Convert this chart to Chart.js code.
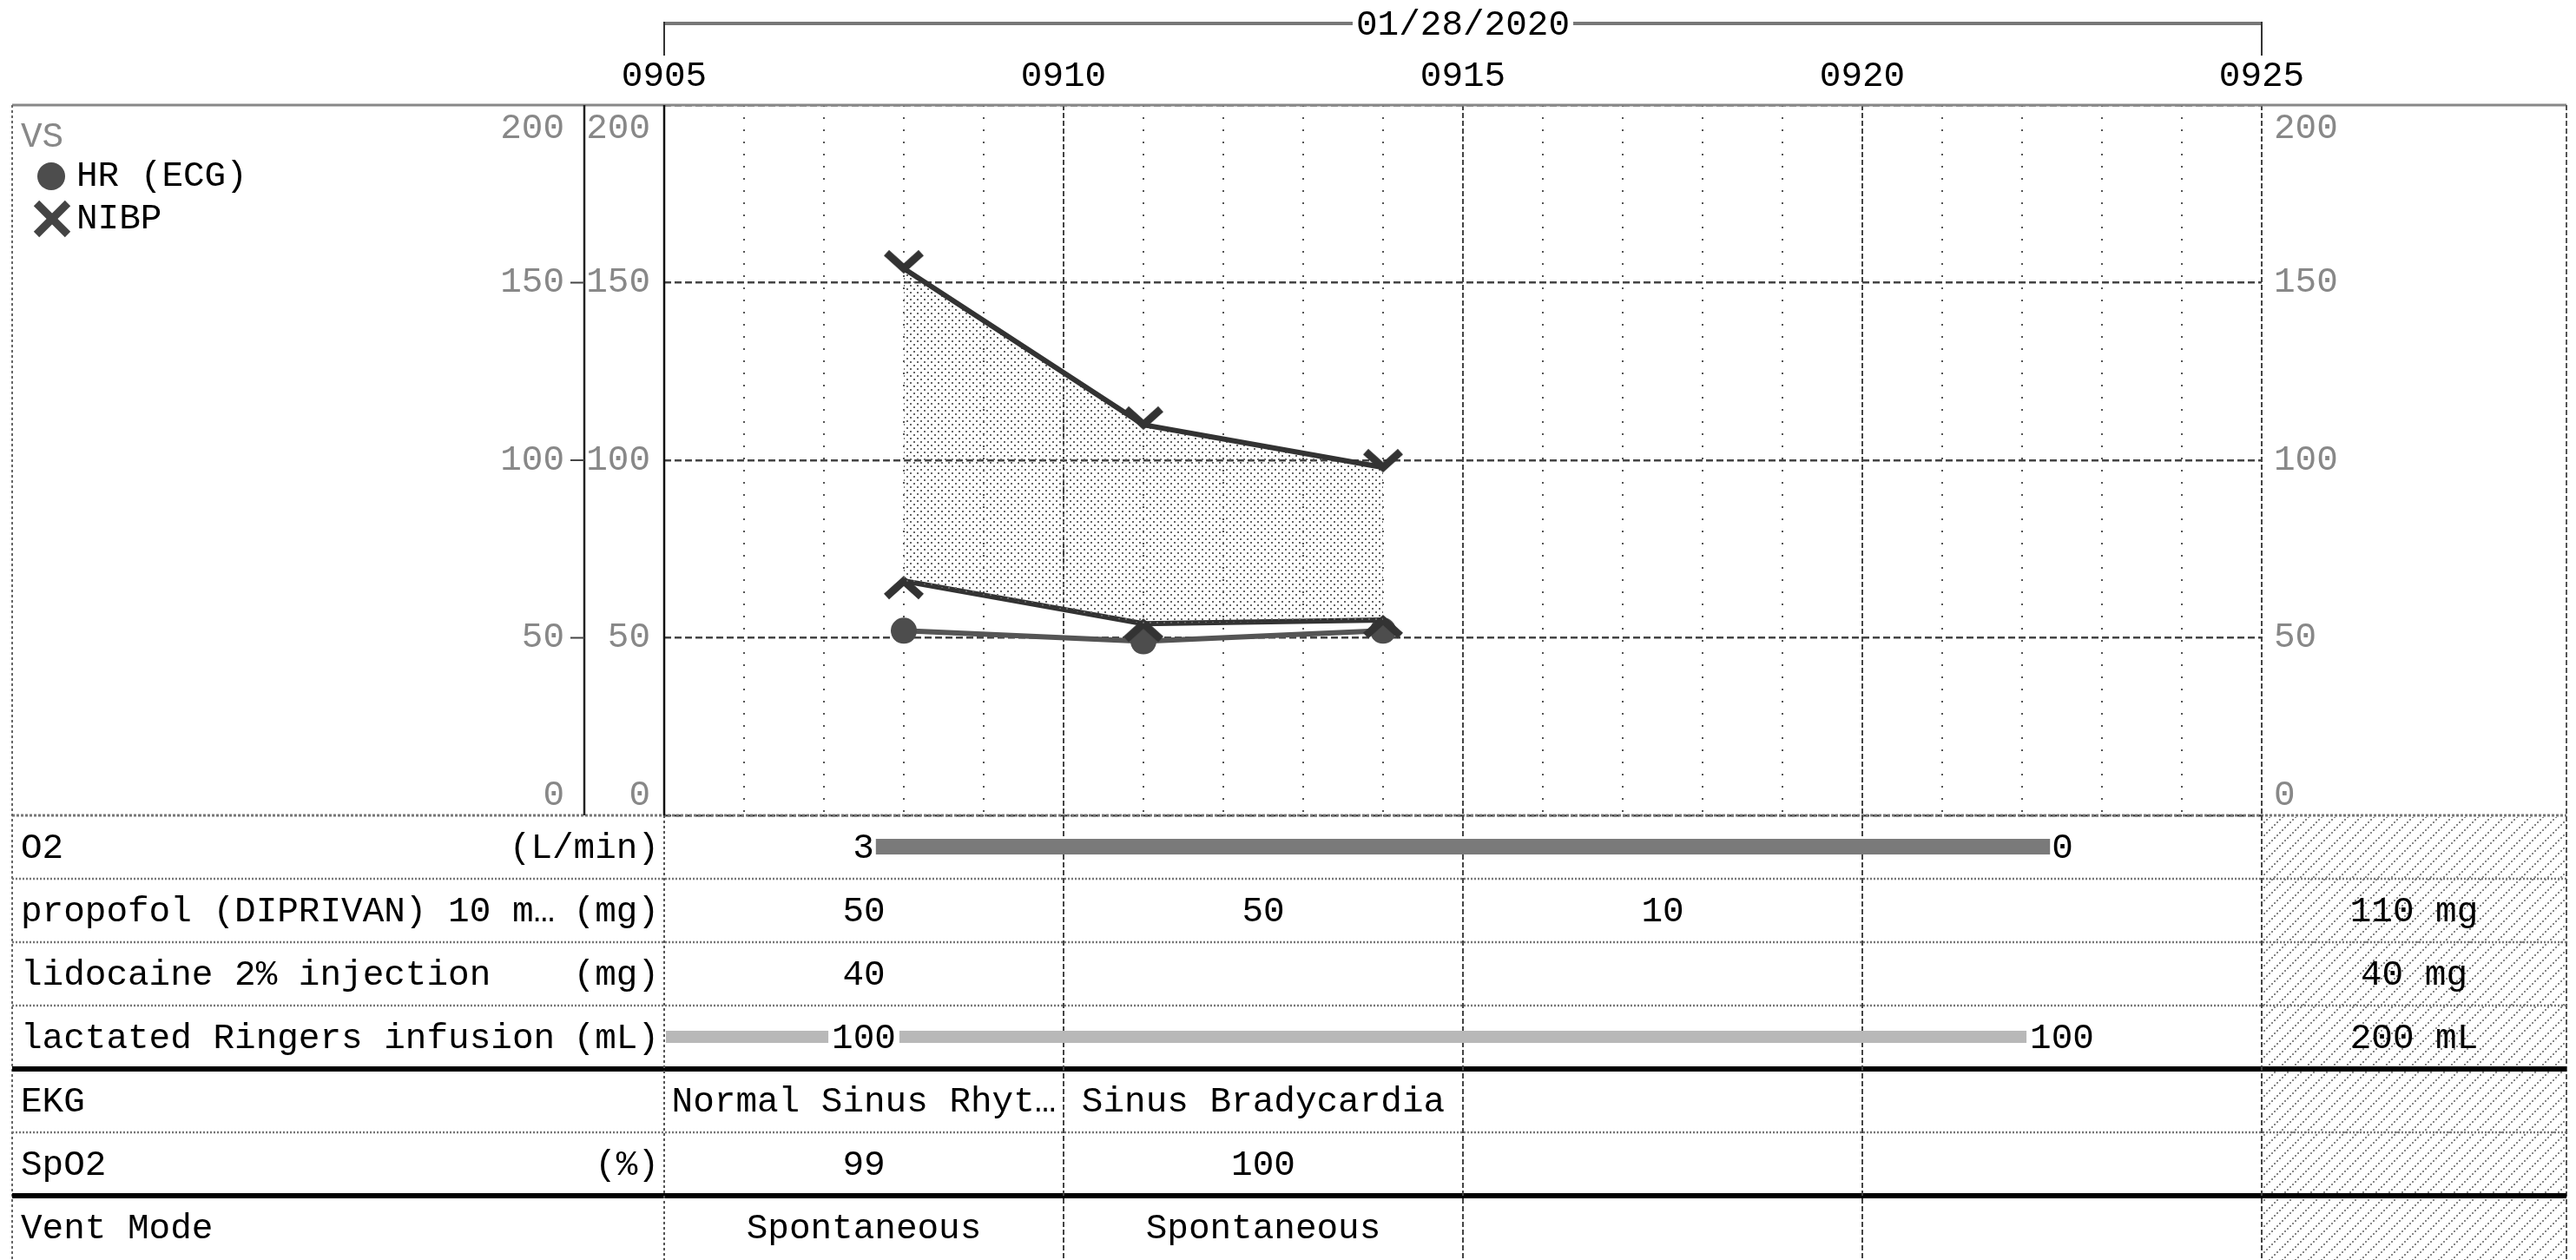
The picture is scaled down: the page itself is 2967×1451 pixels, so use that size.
<!DOCTYPE html>
<html>
<head>
<meta charset="utf-8">
<title>Anesthesia record - VS</title>
<script src="https://cdn.jsdelivr.net/npm/chart.js@4.4.1/dist/chart.umd.min.js"></script>
<style>
    html, body { margin: 0; padding: 0; background: #fff; }
    canvas { display: block; }
</style>
</head>
<body>
<canvas id="record" width="2967" height="1451"></canvas>
<script>
// ---- data ----
const recordDate = "01/28/2020";
const timeTicks = ["0905", "0910", "0915", "0920", "0925"];   // every 5 minutes
const yTicks = [0, 50, 100, 150, 200];

const vitalTimes = ["0908", "0911", "0914"];
const hrValues = [52, 49, 52];
const systolicValues = [154, 110, 98];
const diastolicValues = [66, 54, 55];

// O2 flow: rate changes (minutes after 0905)
const o2ChangeMinutes = [2.65, 17.35];
const o2Rates = [3, 0];

// lactated Ringers running line (minutes after 0905)
const lrRunMinutes = [0, 17.1];

// one entry per 5-minute column
const propofolDoses = [50, 50, 10, null];
const lidocaineDoses = [40, null, null, null];
const lrVolumes = [100, null, null, 100];
const ekgRhythms = ["Normal Sinus Rhythm", "Sinus Bradycardia", null, null];
const spo2Values = [99, 100, null, null];
const ventModes = ["Spontaneous", "Spontaneous", null, null];

const rowLabels = ["O2", "propofol (DIPRIVAN) 10 m\u2026", "lidocaine 2% injection",
    "lactated Ringers infusion", "EKG", "SpO2", "Vent Mode"];
const rowUnits = ["(L/min)", "(mg)", "(mg)", "(mL)", "", "(%)", ""];

// ---- helpers ----
const FONT = '41px "Liberation Mono", "DejaVu Sans Mono", monospace';
const startMinutes = toMinutes(timeTicks[0]);

function toMinutes(hhmm) {
    return Number(hhmm.slice(0, 2)) * 60 + Number(hhmm.slice(2, 4));
}

function points(values) {
    return values.map((v, i) => ({ x: toMinutes(vitalTimes[i]) - startMinutes, y: v }));
}

const canvas = document.getElementById("record");
const mainCtx = canvas.getContext("2d");

function makePattern(size, draw) {
    const c = document.createElement("canvas");
    c.width = size;
    c.height = size;
    draw(c.getContext("2d"));
    return mainCtx.createPattern(c, "repeat");
}

const stipple = makePattern(8, g => {
    g.fillStyle = "#666";
    g.fillRect(0, 0, 2, 2);
    g.fillRect(4, 4, 2, 2);
});

const hatch = makePattern(15, g => {
    g.fillStyle = "#888";
    for (let k = 0; k < 5; k++) {
        g.fillRect(k * 3, 13 - k * 3, 2, 2);
    }
});

function makeChevron(dir) {
    const c = document.createElement("canvas");
    c.width = 60;
    c.height = 60;
    const g = c.getContext("2d");
    g.strokeStyle = "#333";
    g.lineWidth = 9;
    g.beginPath();
    g.moveTo(10, 30 - 18 * dir);
    g.lineTo(30, 30);
    g.lineTo(50, 30 - 18 * dir);
    g.stroke();
    return c;
}

const systolicMark = makeChevron(1);
const diastolicMark = makeChevron(-1);

function line(ctx, x1, y1, x2, y2, color, width, dash) {
    ctx.save();
    ctx.strokeStyle = color;
    ctx.lineWidth = width;
    ctx.setLineDash(dash || []);
    ctx.beginPath();
    ctx.moveTo(x1, y1);
    ctx.lineTo(x2, y2);
    ctx.stroke();
    ctx.restore();
}

function fitText(ctx, text, maxWidth) {
    if (ctx.measureText(text).width <= maxWidth) {
        return text;
    }
    let t = text;
    while (t.length && ctx.measureText(t + "\u2026").width > maxWidth) {
        t = t.slice(0, -1);
    }
    return t + "\u2026";
}

function sum(values) {
    return values.reduce((a, v) => a + (v ?? 0), 0);
}

// ---- sheet plugin: header, axis columns, legend and the table below ----
const sheet = {
    id: "sheet",
    beforeDraw(chart) {
        const ctx = chart.ctx;
        ctx.save();
        ctx.fillStyle = "#fff";
        ctx.fillRect(0, 0, chart.width, chart.height);
        ctx.restore();
    },
    afterDraw(chart) {
        const ctx = chart.ctx;
        const x = chart.scales.x;
        const y = chart.scales.y;
        const area = chart.chartArea;
        const panelLeft = 14;
        const panelRight = 2956;
        const outerAxisX = 673;
        const rowHeight = 73;
        const colCount = timeTicks.length - 1;

        ctx.save();
        ctx.font = FONT;

        // date bracket
        const x0 = x.getPixelForValue(0);
        const x1 = x.getPixelForValue(20);
        const xm = (x0 + x1) / 2;
        const dateW = ctx.measureText(recordDate).width;
        line(ctx, x0, 27, xm - dateW / 2 - 4, 27, "#777", 4);
        line(ctx, xm + dateW / 2 + 4, 27, x1, 27, "#777", 4);
        line(ctx, x0, 25, x0, 64, "#333", 2);
        line(ctx, x1, 25, x1, 64, "#333", 2);
        ctx.fillStyle = "#000";
        ctx.textAlign = "center";
        ctx.textBaseline = "middle";
        ctx.fillText(recordDate, xm, 29);

        // time labels
        timeTicks.forEach((t, i) => {
            ctx.fillText(t, x.getPixelForValue(i * 5), 88);
        });

        // panel frame
        line(ctx, panelLeft, area.top, panelRight, area.top, "#888", 3);
        line(ctx, panelLeft, area.bottom, panelRight, area.bottom, "#777", 3, [3, 2]);
        line(ctx, panelLeft, area.top, panelLeft, chart.height, "#666", 2, [3, 3]);
        line(ctx, panelRight, area.top, panelRight, chart.height, "#555", 2, [6, 3]);
        line(ctx, outerAxisX, area.top, outerAxisX, area.bottom, "#222", 2.5);
        line(ctx, area.left, area.top, area.left, area.bottom, "#111", 2.5);

        // y axis label columns (outer left, inner left, right)
        ctx.fillStyle = "#888";
        yTicks.forEach(v => {
            let py = y.getPixelForValue(v);
            if (v === y.max) py += 27;
            if (v === y.min) py -= 23;
            ctx.textAlign = "right";
            ctx.fillText(String(v), 650, py);
            ctx.fillText(String(v), 749, py);
            ctx.textAlign = "left";
            ctx.fillText(String(v), area.right + 14, py);
            if (v !== y.max && v !== y.min) {
                line(ctx, 657, y.getPixelForValue(v), outerAxisX, y.getPixelForValue(v), "#444", 2);
            }
        });

        // legend
        ctx.textAlign = "left";
        ctx.fillStyle = "#888";
        ctx.fillText("VS", 24, 158);
        ctx.fillStyle = "#4d4d4d";
        ctx.beginPath();
        ctx.arc(59, 203, 16, 0, Math.PI * 2);
        ctx.fill();
        line(ctx, 42, 234, 78, 270, "#444", 9);
        line(ctx, 78, 234, 42, 270, "#444", 9);
        ctx.fillStyle = "#000";
        ctx.fillText(chart.data.datasets[2].label, 88, 203);
        ctx.fillText(chart.data.datasets[0].label, 88, 252);

        // table
        const rowTop = i => area.bottom + i * rowHeight;
        const rowMid = i => rowTop(i) + rowHeight / 2 + 2;
        const colMid = c => x.getPixelForValue(c * 5 + 2.5);

        ctx.fillStyle = hatch;
        ctx.fillRect(area.right + 2, area.bottom + 2, panelRight - area.right - 4, chart.height - area.bottom);

        for (let i = 1; i < rowLabels.length; i++) {
            const thick = i === 4 || i === 6;
            if (thick) {
                line(ctx, panelLeft, rowTop(i), panelRight, rowTop(i), "#000", 6);
            } else {
                line(ctx, panelLeft, rowTop(i), panelRight, rowTop(i), "#777", 2.5, [2, 2]);
            }
        }
        line(ctx, area.left, area.bottom, area.left, chart.height, "#555", 2, [3, 3]);
        for (let c = 1; c <= colCount; c++) {
            const px = x.getPixelForValue(c * 5);
            line(ctx, px, area.bottom, px, chart.height, "#444", 2, [6, 3]);
        }

        // O2 running bar
        const o2a = x.getPixelForValue(o2ChangeMinutes[0]);
        const o2b = x.getPixelForValue(o2ChangeMinutes[1]);
        ctx.fillStyle = "#7a7a7a";
        ctx.fillRect(o2a, rowTop(0) + 27, o2b - o2a, 18);
        ctx.fillStyle = "#000";
        ctx.textAlign = "right";
        ctx.fillText(String(o2Rates[0]), o2a - 2, rowMid(0));
        ctx.textAlign = "left";
        ctx.fillText(String(o2Rates[1]), o2b + 2, rowMid(0));

        // lactated Ringers running bar
        const lra = x.getPixelForValue(lrRunMinutes[0]);
        const lrb = x.getPixelForValue(lrRunMinutes[1]);
        ctx.fillStyle = "#b8b8b8";
        ctx.fillRect(lra + 2, rowTop(3) + 29, lrb - lra - 2, 14);

        // row labels and units
        rowLabels.forEach((label, i) => {
            ctx.fillStyle = "#000";
            ctx.textAlign = "left";
            ctx.fillText(label, 24, rowMid(i));
            if (rowUnits[i]) {
                ctx.textAlign = "right";
                ctx.fillText(rowUnits[i], 759, rowMid(i));
            }
        });

        // column cells
        const colW = x.getPixelForValue(5) - x.getPixelForValue(0);
        const cellRows = [null, propofolDoses, lidocaineDoses, lrVolumes, ekgRhythms, spo2Values, ventModes];
        ctx.textAlign = "center";
        cellRows.forEach((values, i) => {
            if (!values) return;
            values.forEach((v, c) => {
                if (v === null) return;
                const text = fitText(ctx, String(v), colW - 4);
                if (i === 3) {
                    const w = ctx.measureText(text).width;
                    ctx.fillStyle = "#fff";
                    ctx.fillRect(colMid(c) - w / 2 - 4, rowTop(i) + 26, w + 8, 20);
                }
                ctx.fillStyle = "#000";
                ctx.fillText(text, colMid(c), rowMid(i));
            });
        });

        // totals column
        const totalsX = (area.right + panelRight) / 2;
        [[1, propofolDoses], [2, lidocaineDoses], [3, lrVolumes]].forEach(([i, values]) => {
            const unit = rowUnits[i].replace(/[()]/g, "");
            ctx.fillText(sum(values) + " " + unit, totalsX, rowMid(i));
        });

        ctx.restore();
    }
};

new Chart(canvas, {
    type: "line",
    data: {
        datasets: [
            {
                label: "NIBP",
                data: points(systolicValues),
                borderColor: "#333",
                borderWidth: 6,
                pointStyle: systolicMark,
                fill: { target: "+1", above: stipple, below: stipple },
                tension: 0
            },
            {
                label: "NIBP (diastolic)",
                data: points(diastolicValues),
                borderColor: "#333",
                borderWidth: 6,
                pointStyle: diastolicMark,
                fill: false,
                tension: 0
            },
            {
                label: "HR (ECG)",
                data: points(hrValues),
                borderColor: "#555",
                backgroundColor: "#4d4d4d",
                borderWidth: 6,
                pointStyle: "circle",
                pointRadius: 15,
                pointBorderWidth: 0,
                fill: false,
                tension: 0
            }
        ]
    },
    options: {
        responsive: false,
        animation: false,
        devicePixelRatio: 1,
        layout: {
            padding: { left: 765, top: 121, right: 362, bottom: 512 }
        },
        plugins: {
            legend: { display: false },
            tooltip: { enabled: false }
        },
        scales: {
            x: {
                type: "linear",
                position: "top",
                min: 0,
                max: 20,
                ticks: { display: false, stepSize: 5 },
                grid: { color: "#444", lineWidth: 2, drawTicks: false },
                border: { display: false, dash: [6, 3] },
                afterFit: scale => { scale.height = 0; }
            },
            xMinor: {
                type: "linear",
                axis: "x",
                position: "bottom",
                min: 0,
                max: 20,
                ticks: { display: false, stepSize: 1 },
                grid: {
                    color: ctx => (ctx.tick && ctx.tick.value % 5 === 0 ? "transparent" : "#555"),
                    lineWidth: 2,
                    drawTicks: false
                },
                border: { display: false, dash: [2, 12] },
                afterFit: scale => { scale.height = 0; }
            },
            y: {
                min: 0,
                max: 200,
                ticks: { display: false, stepSize: 50 },
                grid: { color: "#444", lineWidth: 2.5, drawTicks: false },
                border: { display: false, dash: [8, 4] },
                afterFit: scale => { scale.width = 0; }
            }
        }
    },
    plugins: [sheet]
});
</script>
</body>
</html>
